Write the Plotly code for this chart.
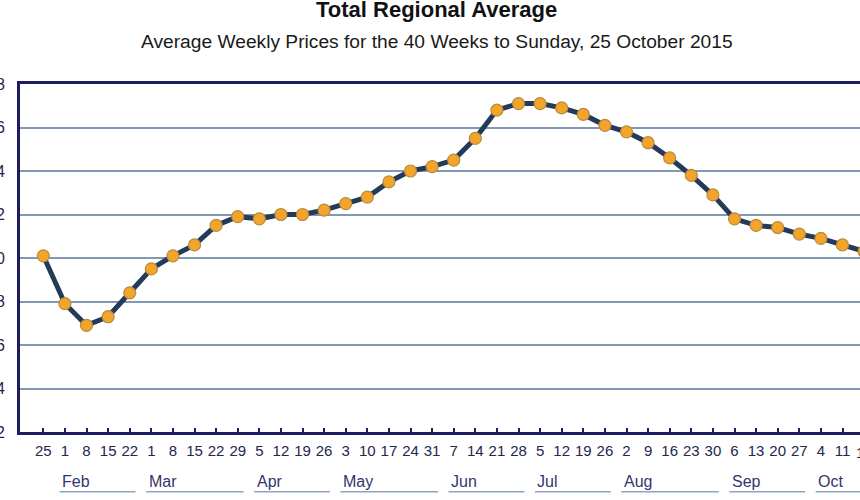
import plotly.graph_objects as go

# ---- data ----
week_days = ["25", "1", "8", "15", "22", "1", "8", "15", "22", "29", "5", "12", "19", "26",
             "3", "10", "17", "24", "31", "7", "14", "21", "28", "5", "12", "19", "26",
             "2", "9", "16", "23", "30", "6", "13", "20", "27", "4", "11", "18"]
prices = [130.1, 127.9, 126.9, 127.3, 128.4, 129.5, 130.1, 130.6, 131.5, 131.9, 131.8, 132.0,
          132.0, 132.2, 132.5, 132.8, 133.5, 134.0, 134.2, 134.5, 135.5, 136.8, 137.1, 137.1,
          136.9, 136.6, 136.1, 135.8, 135.3, 134.6, 133.8, 132.9, 131.8, 131.5, 131.4, 131.1,
          130.9, 130.6, 130.3]
months = ["Feb", "Mar", "Apr", "May", "Jun", "Jul", "Aug", "Sep", "Oct"]
month_first = [1, 5, 10, 14, 19, 23, 27, 32, 36]
month_last = [4, 9, 13, 18, 22, 26, 31, 35, 39]
y_ticks = [122, 124, 126, 128, 130, 132, 134, 136, 138]

x_idx = list(range(len(prices)))
X_RANGE = [-1.08, 37.81]
Y_RANGE = [122, 138]

NAVY = "#1c1c5e"
TXT = "#25254f"
FONT = "Liberation Sans, Arial"

fig = go.Figure()
fig.add_trace(go.Scatter(
    x=x_idx, y=prices, mode="lines+markers",
    line=dict(color="#233a58", width=5),
    marker=dict(size=12, color="#f3a42b", line=dict(color="#b98a3e", width=1.2)),
    hoverinfo="skip", showlegend=False,
))

fig.update_xaxes(
    range=X_RANGE, tickmode="array", tickvals=x_idx, ticktext=week_days,
    showgrid=False, zeroline=False,
    showline=True, linecolor=NAVY, linewidth=3, mirror=True,
    ticks="inside", ticklen=4, tickwidth=2, tickcolor=NAVY,
    tickfont=dict(family=FONT, size=15, color=TXT),
    ticklabelstandoff=3,
)
fig.update_yaxes(
    range=Y_RANGE, tickmode="array", tickvals=y_ticks,
    showgrid=True, gridcolor="#8198b4", gridwidth=1.6, zeroline=False,
    showline=True, linecolor=NAVY, linewidth=3, mirror=False,
    ticks="", tickfont=dict(family=FONT, size=16, color=TXT),
    ticklabelstandoff=9,
)

annotations = []
shapes = []
# tick labels that fall just beyond the visible range (partially cut off)
span = X_RANGE[1] - X_RANGE[0]
for i, d in enumerate(week_days):
    if i > X_RANGE[1]:
        annotations.append(dict(x=(i - X_RANGE[0]) / span, y=-0.058, xref="paper", yref="paper",
                                text=d, showarrow=False, xanchor="center", yanchor="middle",
                                font=dict(family=FONT, size=15, color=TXT)))

for m, a, b in zip(months, month_first, month_last):
    annotations.append(dict(x=a - 0.22, y=-0.143, xref="x", yref="paper", text=m,
                            showarrow=False, xanchor="left", yanchor="middle",
                            font=dict(family=FONT, size=16, color="#34346e")))
    shapes.append(dict(type="line", xref="x", yref="paper", x0=a - 0.24, x1=b + 0.27,
                       y0=-0.172, y1=-0.172, line=dict(color="#8ea4c6", width=1.5)))

annotations.append(dict(x=0.4964, y=1.213, xref="paper", yref="paper",
                        text="<b>Total Regional Average</b>", showarrow=False,
                        xanchor="center", yanchor="middle",
                        font=dict(family=FONT, size=22, color="#111111")))
annotations.append(dict(x=0.4964, y=1.121, xref="paper", yref="paper",
                        text="Average Weekly Prices for the 40 Weeks to Sunday, 25 October 2015",
                        showarrow=False, xanchor="center", yanchor="middle",
                        font=dict(family=FONT, size=19.2, color="#1a1a1a")))

fig.update_layout(
    width=860, height=500,
    margin=dict(l=20, r=0, t=84, b=68, autoexpand=False),
    paper_bgcolor="white", plot_bgcolor="white",
    annotations=annotations, shapes=shapes,
)

fig.write_html("out.html")
